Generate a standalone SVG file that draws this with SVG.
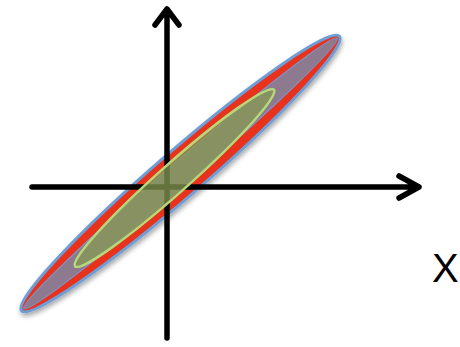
<svg xmlns="http://www.w3.org/2000/svg" width="460" height="347" viewBox="0 0 460 347">
<defs>
<filter id="sh" x="-20%" y="-20%" width="140%" height="140%">
<feGaussianBlur in="SourceAlpha" stdDeviation="2.5"/>
<feOffset dx="1" dy="3" result="b"/>
<feComponentTransfer><feFuncA type="linear" slope="0.35"/></feComponentTransfer>
<feMerge><feMergeNode/><feMergeNode in="SourceGraphic"/></feMerge>
</filter>
<style>
.axis{stroke:#000;stroke-width:5.5;fill:none;stroke-linecap:round;stroke-linejoin:round}
.lbl{font-family:"Liberation Sans",Arial,sans-serif;font-size:40px;fill:#000}
</style>
</defs>
<rect width="460" height="347" fill="#fff"/>
<g id="outer" filter="url(#sh)">
<ellipse cx="180.5" cy="173.5" rx="210" ry="23" transform="rotate(-40.8 180.5 173.5)" fill="#e9321f" stroke="#6e9ed6" stroke-width="3"/>
<ellipse cx="180.5" cy="173.5" rx="207" ry="11.5" transform="rotate(-40.8 180.5 173.5)" fill="#8e7a8e" stroke="#7f92c4" stroke-width="1.2"/>
</g>
<g id="axes">
<path class="axis" d="M167 338 V9 M155 25 L167 9 L179 25"/>
<path class="axis" d="M32 187 H419 M399 176 L419 187 L399 198"/>
</g>
<g id="inner">
<ellipse cx="174.5" cy="178" rx="133" ry="14.5" transform="rotate(-41.6 174.5 178)" fill="#859a53" fill-opacity="0.75" stroke="#b6d97a" stroke-width="2.5"/>
</g>
<text class="lbl" x="432" y="282">X</text>
</svg>
